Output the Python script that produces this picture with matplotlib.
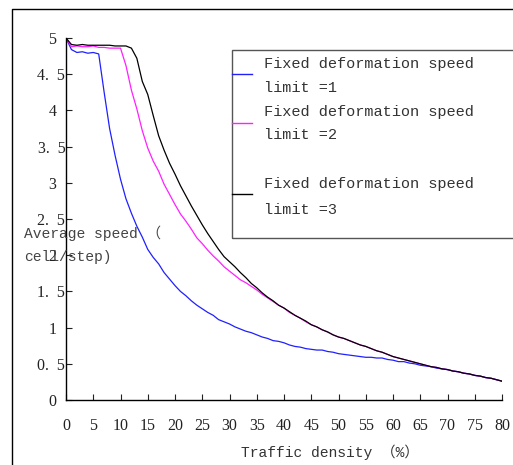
import matplotlib
matplotlib.use('Agg')
import matplotlib.pyplot as plt
from matplotlib.lines import Line2D
from matplotlib.patches import Rectangle

# traffic density (%) 0..80 in steps of 1
density = list(range(0, 81))

speed_limit1 = [5.00, 4.84, 4.80, 4.81, 4.79, 4.80, 4.78, 4.25, 3.75, 3.38,
                3.05, 2.78, 2.58, 2.40, 2.25, 2.08, 1.97, 1.88, 1.76, 1.67,
                1.58, 1.50, 1.44, 1.37, 1.31, 1.26, 1.21, 1.17, 1.11, 1.08,
                1.05, 1.01, 0.98, 0.95, 0.93, 0.90, 0.87, 0.85, 0.82, 0.81,
                0.79, 0.76, 0.74, 0.73, 0.71, 0.70, 0.69, 0.69, 0.67, 0.66,
                0.64, 0.63, 0.62, 0.61, 0.60, 0.59, 0.59, 0.58, 0.58, 0.56,
                0.55, 0.53, 0.53, 0.51, 0.50, 0.48, 0.47, 0.46, 0.44, 0.43,
                0.42, 0.40, 0.39, 0.37, 0.36, 0.34, 0.33, 0.31, 0.30, 0.28,
                0.26]

speed_limit2 = [5.00, 4.88, 4.89, 4.88, 4.88, 4.89, 4.87, 4.87, 4.86, 4.86,
                4.86, 4.62, 4.28, 4.02, 3.72, 3.48, 3.30, 3.16, 2.98, 2.84,
                2.70, 2.57, 2.47, 2.36, 2.24, 2.16, 2.07, 1.99, 1.92, 1.84,
                1.78, 1.72, 1.66, 1.62, 1.57, 1.52, 1.46, 1.41, 1.36, 1.31,
                1.27, 1.21, 1.17, 1.13, 1.08, 1.04, 1.01, 0.97, 0.94, 0.90,
                0.87, 0.85, 0.82, 0.79, 0.76, 0.74, 0.71, 0.68, 0.66, 0.63,
                0.60, 0.58, 0.56, 0.54, 0.52, 0.50, 0.48, 0.46, 0.45, 0.43,
                0.42, 0.40, 0.39, 0.37, 0.36, 0.34, 0.33, 0.31, 0.30, 0.28,
                0.26]

speed_limit3 = [5.00, 4.91, 4.90, 4.91, 4.90, 4.90, 4.90, 4.90, 4.90, 4.89,
                4.89, 4.89, 4.86, 4.72, 4.40, 4.22, 3.93, 3.65, 3.45, 3.27,
                3.12, 2.96, 2.82, 2.68, 2.55, 2.42, 2.30, 2.19, 2.08, 1.98,
                1.91, 1.84, 1.76, 1.69, 1.61, 1.55, 1.48, 1.42, 1.37, 1.31,
                1.27, 1.22, 1.17, 1.13, 1.09, 1.04, 1.01, 0.97, 0.94, 0.90,
                0.87, 0.85, 0.82, 0.79, 0.76, 0.74, 0.71, 0.68, 0.66, 0.63,
                0.60, 0.58, 0.56, 0.54, 0.52, 0.50, 0.48, 0.46, 0.45, 0.43,
                0.42, 0.40, 0.39, 0.37, 0.36, 0.34, 0.33, 0.31, 0.30, 0.28,
                0.26]

x_ticks = list(range(0, 81, 5))
y_ticks = [0, 0.5, 1, 1.5, 2, 2.5, 3, 3.5, 4, 4.5, 5]
y_tick_labels = ['0  ', '0.\u20025', '1  ', '1.\u20025', '2  ', '2.\u20025',
                 '3  ', '3.\u20025', '4  ', '4.\u20025', '5  ']
legend_labels = ['Fixed deformation speed\nlimit =1',
                 'Fixed deformation speed\nlimit =2',
                 'Fixed deformation speed\nlimit =3']
colors = ['#2020ff', '#ff20ff', '#000000']

mono = ['Liberation Mono', 'Noto Sans CJK SC']
serif = ['Liberation Serif', 'DejaVu Serif']
plt.rcParams['font.family'] = mono

W, H = 513, 465
fig = plt.figure(figsize=(W / 100, H / 100), dpi=100)
ax = fig.add_axes([66 / W, 65 / H, 436 / W, 362 / H])

for ys, c in zip([speed_limit1, speed_limit2, speed_limit3], colors):
    ax.plot(density, ys, color=c, lw=0.9)

ax.set_xlim(0, 80)
ax.set_ylim(0, 5)
ax.set_xticks(x_ticks)
ax.set_yticks(y_ticks)
ax.set_yticklabels(y_tick_labels)
for s in ['top', 'right']:
    ax.spines[s].set_visible(False)
for s in ['left', 'bottom']:
    ax.spines[s].set_linewidth(1.0)
ax.tick_params(axis='both', direction='in', length=4, width=0.8,
               labelsize=11.5, colors='#222222')
ax.tick_params(axis='x', pad=13)
ax.tick_params(axis='y', pad=0.5)
for lbl in ax.get_xticklabels() + ax.get_yticklabels():
    lbl.set_family(serif)

fig.text(330 / W, 1 - 452 / H, 'Traffic density （%）', fontsize=10.5,
         color='#333333', ha='center', va='center')
fig.text(24 / W, 1 - 233 / H, 'Average speed （', fontsize=10.5,
         color='#444444', ha='left', va='center')
fig.text(24 / W, 1 - 257 / H, 'cell/step)', fontsize=10.5,
         color='#444444', ha='left', va='center')

# legend box drawn by hand to keep the uneven spacing
fig.patches.append(Rectangle((232 / W, 1 - 238 / H), 290 / W, 188 / H,
                             transform=fig.transFigure, fill=False,
                             edgecolor='#555555', lw=1.0))
handle_y = [74, 123, 194]
text_y = [(64, 88), (112, 135), (184, 210)]
for lab, c, hy, (t1, t2) in zip(legend_labels, colors, handle_y, text_y):
    fig.lines.append(Line2D([232 / W, 252 / W], [1 - hy / H, 1 - hy / H],
                            transform=fig.transFigure, color=c, lw=1.0))
    line1, line2 = lab.split('\n')
    fig.text(264 / W, 1 - t1 / H, line1, fontsize=11, color='#333333',
             ha='left', va='center')
    fig.text(264 / W, 1 - t2 / H, line2, fontsize=11, color='#333333',
             ha='left', va='center')

# outer frame (left and top edges)
fig.lines.append(Line2D([12 / W, 12 / W, 1.0], [0.0, 1 - 9 / H, 1 - 9 / H],
                        transform=fig.transFigure, color='black', lw=1.0))

fig.savefig('out.png', dpi=100)
